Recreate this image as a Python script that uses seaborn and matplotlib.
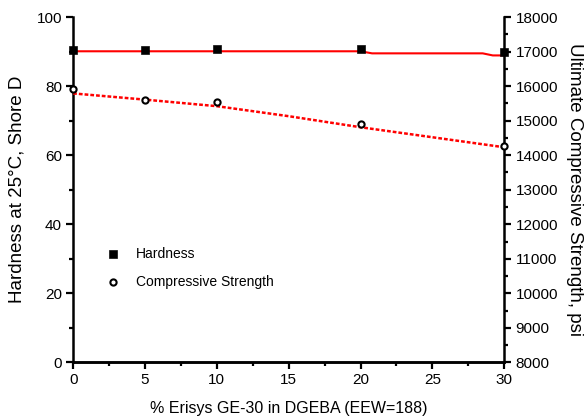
#
# hardness and compressive strength vs % Erisys GE-30
#
import pandas as pd
import matplotlib
matplotlib.use('Agg')
import matplotlib.pyplot as plt
from matplotlib.ticker import MultipleLocator
import seaborn as sns

# measured points
pct = [0, 5, 10, 20, 30]
hardness = [90.6, 90.6, 90.9, 90.9, 89.9]
strength_psi = [15910, 15600, 15540, 14890, 14270]

# fitted curves
fit_pct_h = [0, 20, 20.8, 28.5, 29.2, 30]
fit_hardness = [90.1, 90.1, 89.5, 89.5, 88.9, 88.9]
fit_pct_s = [0, 5, 10, 15, 20, 25, 30]
fit_strength = [15790, 15610, 15420, 15130, 14810, 14520, 14230]

df_pts = pd.DataFrame({'pct': pct, 'hardness': hardness, 'strength': strength_psi})
df_fh = pd.DataFrame({'pct': fit_pct_h, 'hardness': fit_hardness})
df_fs = pd.DataFrame({'pct': fit_pct_s, 'strength': fit_strength})

sns.set_style('ticks', {'axes.edgecolor': 'black', 'text.color': 'black',
                        'xtick.color': 'black', 'ytick.color': 'black',
                        'axes.labelcolor': 'black'})
plt.rcParams['font.family'] = ['Liberation Sans', 'DejaVu Sans']

fig = plt.figure(figsize=(5.85, 4.17), dpi=100)
ax = fig.add_axes([0.125, 0.131, 0.737, 0.828])
ax2 = ax.twinx()

#---
# lines
#---
sns.lineplot(data=df_fh, x='pct', y='hardness', ax=ax, color='red', lw=1.5)
sns.lineplot(data=df_fs, x='pct', y='strength', ax=ax2, color='red', lw=1.8,
             linestyle=(0, (1.5, 0.8)))

#---
# points
#---
sns.scatterplot(data=df_pts, x='pct', y='hardness', ax=ax, marker='s', s=32,
                color='black', edgecolor='black', clip_on=False, zorder=5,
                label='Hardness', legend=False)
sns.scatterplot(data=df_pts, x='pct', y='strength', ax=ax2, marker='o', s=20,
                facecolor='white', edgecolor='black', linewidth=1.5,
                clip_on=False, zorder=5, label='Compressive Strength', legend=False)

ax.set_xlim(0, 30)
ax.set_ylim(0, 100)
ax2.set_ylim(8000, 18000)

ax.xaxis.set_major_locator(MultipleLocator(5))
ax.xaxis.set_minor_locator(MultipleLocator(2.5))
ax.yaxis.set_major_locator(MultipleLocator(20))
ax.yaxis.set_minor_locator(MultipleLocator(10))
ax2.yaxis.set_major_locator(MultipleLocator(1000))
ax2.yaxis.set_minor_locator(MultipleLocator(500))

for a in (ax, ax2):
    a.spines['top'].set_visible(False)
    for sp in a.spines.values():
        sp.set_linewidth(1.8)
    a.tick_params(which='major', direction='out', length=5, width=1.6, labelsize=11,
                  pad=3, colors='black')
    a.tick_params(which='minor', direction='out', length=3, width=1.6, colors='black')
    a.set_xlabel('')
ax2.spines['left'].set_visible(False)
ax.spines['right'].set_visible(False)

ax.set_xlabel('% Erisys GE-30 in DGEBA (EEW=188)', fontsize=11.5, labelpad=10)
ax.set_ylabel('Hardness at 25°C, Shore D', fontsize=13.5, labelpad=8)
ax2.set_ylabel('Ultimate Compressive Strength, psi', fontsize=13.5, rotation=270,
               labelpad=18)

# legend
h1, l1 = ax.get_legend_handles_labels()
h2, l2 = ax2.get_legend_handles_labels()
ax.legend(h1 + h2, l1 + l2, loc='upper left', bbox_to_anchor=(0.04, 0.37),
          frameon=False, fontsize=10, handletextpad=0.9, labelspacing=1.0,
          handlelength=1.5)

plt.savefig('out.png', dpi=100)
plt.close()
